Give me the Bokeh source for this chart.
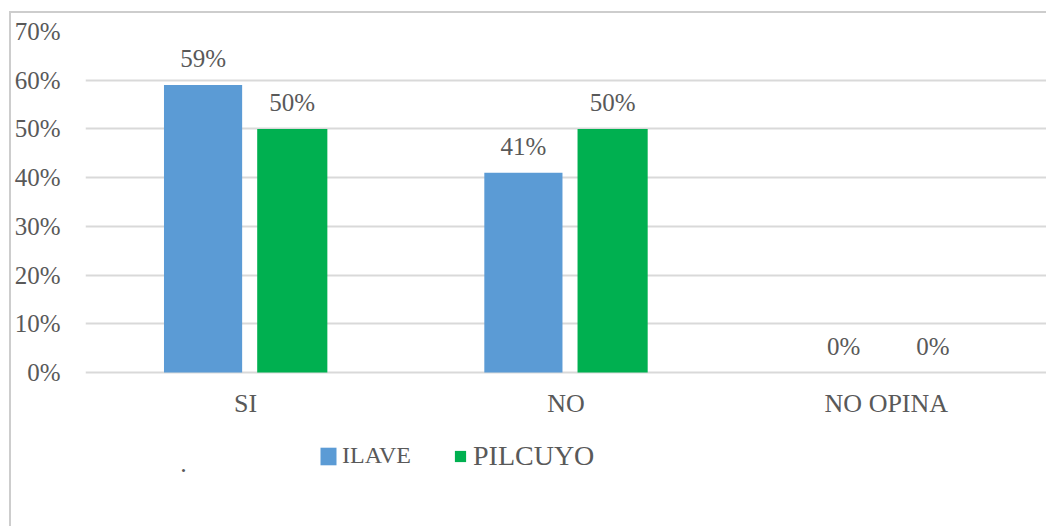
from bokeh.plotting import figure
from bokeh.models import (ColumnDataSource, FactorRange, Range1d, FixedTicker,
                          PrintfTickFormatter, LabelSet, Legend, LegendItem, Label)
from bokeh.transform import dodge
from bokeh.core.properties import value
from bokeh.embed import file_html
from bokeh.resources import INLINE

# Survey answers by district (percent)
categories = ["SI", "NO", "NO OPINA"]
ilave = [59, 41, 0]
pilcuyo = [50, 50, 0]
y_ticks = [0, 10, 20, 30, 40, 50, 60, 70]

FONT = "Liberation Serif"
TEXT = "#595959"
BLUE = "#5B9BD5"
GREEN = "#00B050"

src = ColumnDataSource(dict(
    cat=categories,
    ilave=ilave,
    pilcuyo=pilcuyo,
    ilave_lbl=[f"{v}%" for v in ilave],
    pilcuyo_lbl=[f"{v}%" for v in pilcuyo],
))

# the plot frame runs down to the bottom edge so the legend sits inside it;
# the category axis is pinned at y = 0
p = figure(
    x_range=FactorRange(*categories),
    y_range=Range1d(-32.02, 70),
    width=1037, height=515,
    min_border_left=74, min_border_right=2,
    min_border_top=18, min_border_bottom=0,
    output_backend="svg", toolbar_location=None,
)
p.styles = {
    "margin-left": "9px", "margin-top": "11px",
    "border-left": "2px solid #CDCDCD", "border-top": "2px solid #CDCDCD",
}
p.outline_line_color = None
p.background_fill_color = "white"
p.border_fill_color = "white"

# bars
r_ilave = p.vbar(x=dodge("cat", -0.133, range=p.x_range), top="ilave", width=0.244,
                 source=src, fill_color=BLUE, line_color=None)
r_pil = p.vbar(x=dodge("cat", 0.1455, range=p.x_range), top="pilcuyo", width=0.219,
               source=src, fill_color=GREEN, line_color=None)

# value labels
for xoff, col in [(-0.133, "ilave_lbl"), (0.1455, "pilcuyo_lbl")]:
    ycol = "ilave" if col == "ilave_lbl" else "pilcuyo"
    p.add_layout(LabelSet(
        x=dodge("cat", xoff, range=p.x_range), y=ycol, text=col, source=src,
        y_offset=18, text_align="center", text_baseline="alphabetic",
        text_font=value(FONT), text_font_size="25px", text_color=TEXT,
    ))

# axes
p.yaxis.ticker = FixedTicker(ticks=y_ticks)
p.yaxis.formatter = PrintfTickFormatter(format="%d%%")
p.xaxis.fixed_location = 0
for ax in (p.xaxis[0], p.yaxis[0]):
    ax.axis_line_color = None
    ax.major_tick_line_color = None
    ax.minor_tick_line_color = None
    ax.major_tick_out = 0
    ax.major_tick_in = 0
    ax.major_label_text_font = FONT
    ax.major_label_text_color = TEXT
p.yaxis.major_label_text_font_size = "25px"
p.yaxis.major_label_standoff = 25
p.xaxis.major_label_text_font_size = "26px"
p.xaxis.major_label_standoff = 16

p.xgrid.grid_line_color = None
p.ygrid.grid_line_color = "#D9D9D9"
p.ygrid.grid_line_width = 2

# legend: two entries with their own sizes
leg1 = Legend(items=[LegendItem(label="ILAVE", renderers=[r_ilave])],
              location=(233, 59), glyph_width=20, glyph_height=22,
              label_standoff=4, label_text_font=FONT, label_text_font_size="24px",
              label_text_color=TEXT, padding=0, margin=0, spacing=0,
              border_line_color=None, background_fill_alpha=0)
leg2 = Legend(items=[LegendItem(label="PILCUYO", renderers=[r_pil])],
              location=(368, 56), glyph_width=14, glyph_height=14,
              label_standoff=6, label_text_font=FONT, label_text_font_size="28px",
              label_text_color=TEXT, padding=0, margin=0, spacing=0,
              border_line_color=None, background_fill_alpha=0)
p.add_layout(leg1, "center")
p.add_layout(leg2, "center")

p.add_layout(Label(x=98, y=65, x_units="screen", y_units="screen", text=".",
                   text_align="center", text_baseline="alphabetic",
                   text_font=FONT, text_font_size="26px", text_color=TEXT))

open("out.html", "w").write(file_html(p, INLINE))
